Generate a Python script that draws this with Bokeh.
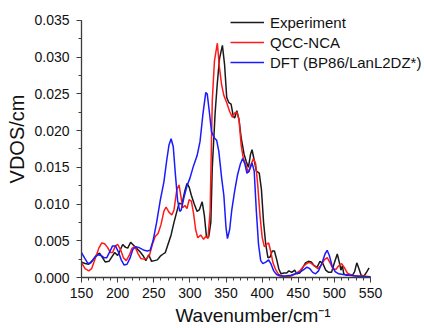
from bokeh.plotting import figure
from bokeh.models import SingleIntervalTicker, PrintfTickFormatter, Legend, LegendItem, Range1d
from bokeh.embed import file_html
from bokeh.resources import INLINE

# ---- data ----
exp_x = [150,155,160,166,171,175,179,183,188,192,196,200,203,207,211,214,218,222,226,231,235,239,243,247,251,255,259,263,266,270,274,278,282,285,289,293,296,299,302,306,310,313,317,320,323,326,329,331,335,338,341,345,348,351,354,357,360,362,365,368,371,375,378,381,384,386,389,392,396,399,402,405,408,411,414,417,420,423,426,430,434,437,441,445,448,452,456,460,464,468,472,476,480,484,488,492,496,500,504,507,509,511,513,517,521,525,528,531,534,537,541,545,548]
exp_y = [0.0021,0.0019,0.0018,0.0024,0.0031,0.0033,0.0027,0.0021,0.0022,0.0028,0.0034,0.0030,0.0036,0.0045,0.0041,0.0040,0.0048,0.0044,0.0040,0.0035,0.0030,0.0023,0.0031,0.0022,0.0023,0.0024,0.0029,0.0032,0.0034,0.0046,0.0058,0.0075,0.0090,0.0101,0.0100,0.0118,0.0128,0.0123,0.0112,0.0100,0.0090,0.0092,0.0103,0.0085,0.0055,0.0055,0.0075,0.0150,0.0225,0.0265,0.0298,0.0316,0.0290,0.0245,0.0238,0.0236,0.0220,0.0217,0.0227,0.0215,0.0190,0.0168,0.0158,0.0150,0.0168,0.0174,0.0160,0.0145,0.0142,0.0120,0.0075,0.0045,0.0027,0.0028,0.0036,0.0036,0.0025,0.0012,0.0005,0.0006,0.0006,0.0009,0.0007,0.0010,0.0005,0.0006,0.0013,0.0020,0.0022,0.0021,0.0016,0.0014,0.0022,0.0019,0.0010,0.0007,0.0007,0.0020,0.0032,0.0020,0.0010,0.0016,0.0005,0.0003,0.0004,0.0003,0.0008,0.0020,0.0012,0.0003,0.0002,0.0008,0.0013]

qcc_x = [150,155,160,164,169,174,178,182,186,190,193,197,200,204,208,212,216,220,224,228,232,236,240,244,248,252,256,260,264,267,271,275,278,282,285,288,290,293,296,299,302,305,308,311,315,319,322,325,328,331,334,338,341,344,347,351,355,359,362,365,368,371,374,378,381,385,388,391,394,397,400,403,406,409,412,415,419,423,428,434,440,446,452,458,463,467,472,477,482,486,490,494,498,502,506,510,514,518,524,530,540,550]
qcc_y = [0.0020,0.0012,0.0009,0.0012,0.0026,0.0040,0.0047,0.0046,0.0041,0.0034,0.0034,0.0043,0.0045,0.0038,0.0027,0.0023,0.0030,0.0040,0.0042,0.0033,0.0026,0.0025,0.0026,0.0030,0.0045,0.0056,0.0060,0.0072,0.0090,0.0096,0.0089,0.0085,0.0092,0.0120,0.0126,0.0108,0.0095,0.0098,0.0094,0.0106,0.0104,0.0088,0.0065,0.0054,0.0058,0.0052,0.0056,0.0053,0.0090,0.0241,0.0295,0.0319,0.0285,0.0262,0.0248,0.0238,0.0226,0.0218,0.0224,0.0225,0.0215,0.0180,0.0162,0.0152,0.0143,0.0155,0.0162,0.0155,0.0125,0.0085,0.0055,0.0042,0.0045,0.0047,0.0035,0.0020,0.0010,0.0004,0.0002,0.0001,0.0002,0.0005,0.0009,0.0016,0.0020,0.0020,0.0016,0.0012,0.0017,0.0024,0.0027,0.0020,0.0012,0.0011,0.0016,0.0019,0.0013,0.0006,0.0003,0.0002,0.0002,0.0001]

dft_x = [150,154,159,163,168,173,177,181,185,189,193,197,201,205,209,213,217,221,225,229,233,237,241,245,249,254,259,264,268,271,274,277,280,283,286,288,292,296,300,305,310,314,318,322,324,327,330,334,337,340,344,347,350,352,355,358,362,366,370,373,376,379,382,386,389,392,395,398,401,405,409,412,416,420,425,432,440,446,452,458,462,466,470,474,478,483,487,490,493,497,501,506,512,520,530,540,550]
dft_y = [0.0034,0.0027,0.0019,0.0020,0.0027,0.0031,0.0030,0.0027,0.0027,0.0035,0.0043,0.0043,0.0035,0.0024,0.0017,0.0018,0.0026,0.0038,0.0042,0.0041,0.0039,0.0037,0.0036,0.0037,0.0050,0.0075,0.0105,0.0130,0.0160,0.0180,0.0189,0.0178,0.0140,0.0105,0.0090,0.0092,0.0110,0.0125,0.0135,0.0152,0.0166,0.0185,0.0222,0.0252,0.0250,0.0225,0.0198,0.0190,0.0187,0.0172,0.0135,0.0112,0.0068,0.0053,0.0065,0.0092,0.0118,0.0140,0.0155,0.0162,0.0155,0.0142,0.0145,0.0156,0.0145,0.0090,0.0045,0.0023,0.0019,0.0021,0.0024,0.0019,0.0009,0.0004,0.0002,0.0002,0.0003,0.0005,0.0007,0.0011,0.0014,0.0012,0.0007,0.0005,0.0009,0.0020,0.0032,0.0037,0.0030,0.0015,0.0008,0.0005,0.0004,0.0003,0.0002,0.0001,0.0001]

labels = ["Experiment", "QCC-NCA", "DFT (BP86/LanL2DZ*)"]
colors = ["#1a1a1a", "#ff1a1a", "#1a1aff"]

# drawn extent of the axes
x_axis_bounds = (150, 550)
y_axis_bounds = (0, 0.035)

FONT = "Liberation Sans"

p = figure(width=424, height=328, output_backend="svg", toolbar_location=None,
           x_range=Range1d(150, 624.7), y_range=Range1d(0, 0.03772),
           min_border_left=81, min_border_right=0, min_border_top=0, min_border_bottom=50)
p.outline_line_color = None
p.grid.visible = False
p.background_fill_color = "white"
p.border_fill_color = "white"

r1 = p.line(exp_x, exp_y, color=colors[0], line_width=1.5)
r2 = p.line(qcc_x, qcc_y, color=colors[1], line_width=1.5)
r3 = p.line(dft_x, dft_y, color=colors[2], line_width=1.5)

p.xaxis.ticker = SingleIntervalTicker(interval=50, num_minor_ticks=5)
p.yaxis.ticker = SingleIntervalTicker(interval=0.005, num_minor_ticks=2)
p.yaxis.formatter = PrintfTickFormatter(format="%.3f")
p.xaxis.bounds = x_axis_bounds
p.yaxis.bounds = y_axis_bounds

for ax in (p.xaxis[0], p.yaxis[0]):
    ax.axis_line_color = "#3c3c3c"
    ax.axis_line_width = 1.3
    ax.major_tick_line_color = "#3c3c3c"
    ax.minor_tick_line_color = "#3c3c3c"
    ax.major_tick_in = 0
    ax.minor_tick_in = 0
    ax.major_tick_out = 5
    ax.minor_tick_out = 3
    ax.major_label_text_font = FONT
    ax.major_label_text_font_size = "14px"
    ax.major_label_text_color = "#111111"
    ax.axis_label_text_font = FONT
    ax.axis_label_text_font_style = "normal"
    ax.axis_label_text_color = "#111111"

p.xaxis.axis_label = "Wavenumber/cm⁻¹"
p.xaxis.axis_label_text_font_size = "19px"
p.xaxis.major_label_standoff = 5
p.xaxis.axis_label_standoff = 4
p.yaxis.axis_label = "VDOS/cm"
p.yaxis.axis_label_text_font_size = "20px"
p.yaxis.major_label_standoff = 7
p.yaxis.axis_label_standoff = 3

legend = Legend(items=[LegendItem(label=labels[0], renderers=[r1]),
                       LegendItem(label=labels[1], renderers=[r2]),
                       LegendItem(label=labels[2], renderers=[r3])],
                location=(149, 205), border_line_color=None, background_fill_alpha=0,
                padding=0, margin=0, spacing=0, glyph_width=34, glyph_height=20,
                label_height=20, label_standoff=6,
                label_text_font=FONT, label_text_font_size="15px", label_text_color="#111111")
p.add_layout(legend, "center")

open("out.html", "w").write(file_html(p, INLINE))
